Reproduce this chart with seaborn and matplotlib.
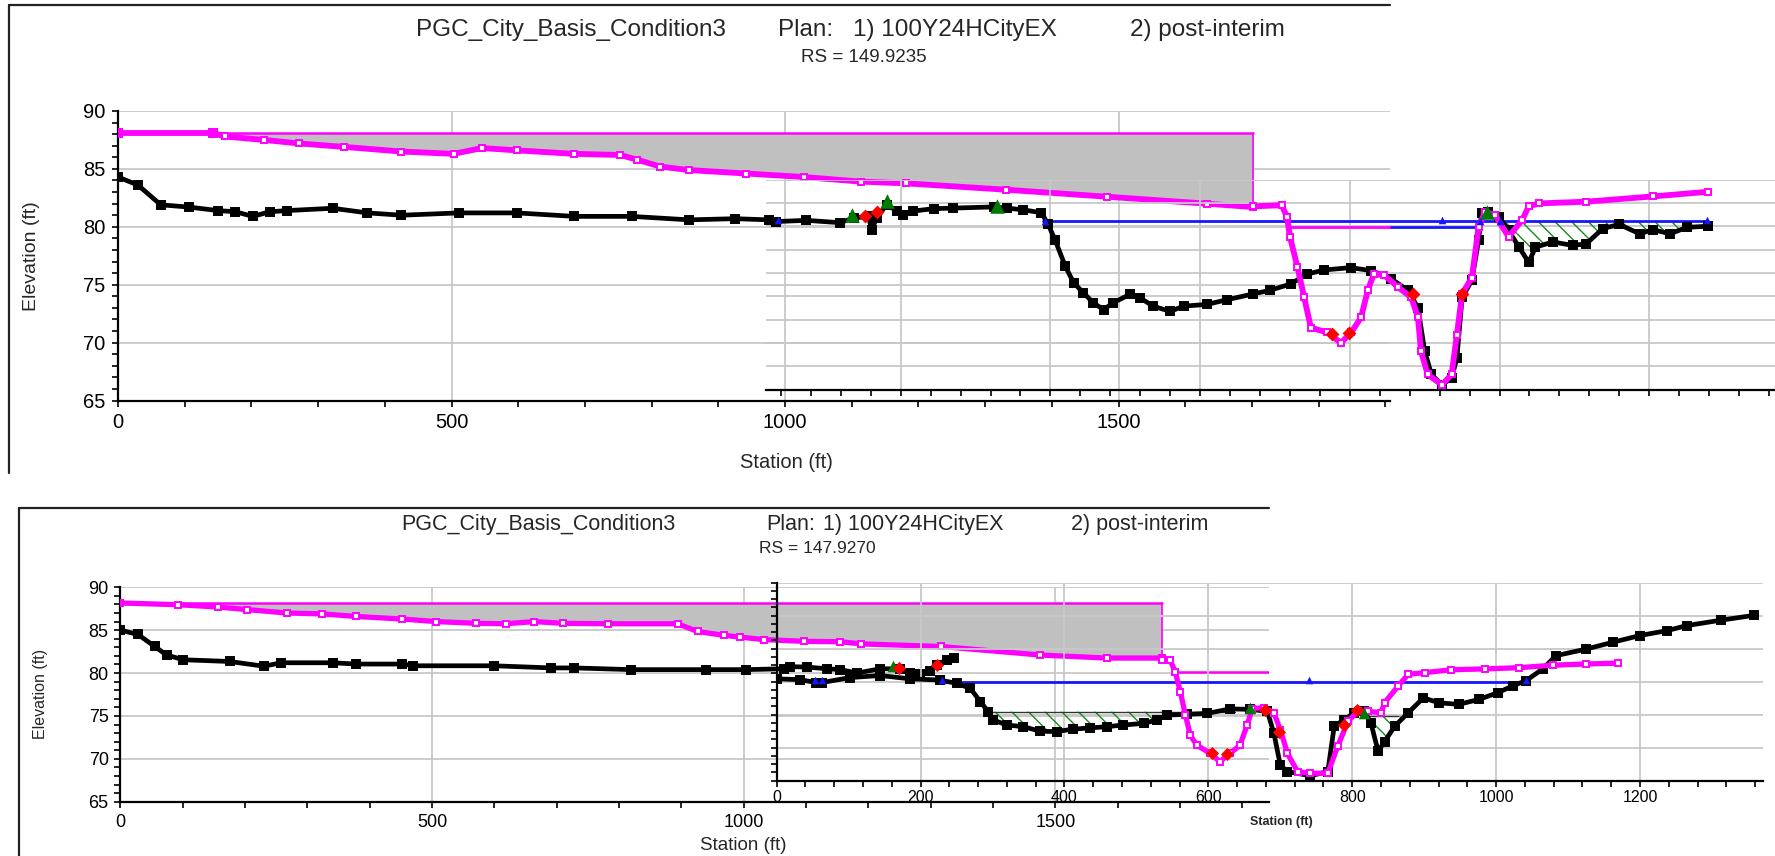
import matplotlib
matplotlib.use("Agg")
import matplotlib.pyplot as plt
import numpy as np
import seaborn as sns
from matplotlib.lines import Line2D
from matplotlib.ticker import FixedLocator, MultipleLocator

# ---------------------------------------------------------------------------
# Upper section, RS = 149.9235
# ---------------------------------------------------------------------------
# plan 1 profile (station ft / elevation ft)
up1_ground_sta = [0, 30, 64, 107, 150, 176, 202, 228, 253, 322, 374, 425, 511, 598,
                  684, 770, 856, 925, 976, 987]
up1_ground_elev = [84.3, 83.6, 81.9, 81.7, 81.4, 81.3, 80.9, 81.3, 81.4, 81.6, 81.2,
                   81.0, 81.2, 81.2, 80.9, 80.9, 80.6, 80.7, 80.6, 80.4]
up1_p2_sta = [0, 143, 160, 219, 271, 339, 425, 503, 546, 598, 684, 753, 778, 813, 856,
              942, 1028, 1114, 1182, 1332, 1482, 1632, 1702]
up1_p2_elev = [88.1, 88.1, 87.8, 87.5, 87.2, 86.9, 86.5, 86.3, 86.8, 86.6, 86.3, 86.2,
               85.8, 85.2, 84.9, 84.6, 84.3, 83.9, 83.75, 83.2, 82.6, 82.0, 81.7]
up1_fill_top = 88.1

# post-interim profile
up2_ground_sta = [34, 74, 119, 137, 157, 161, 168, 181, 195, 203, 217, 244, 270, 324,
                  342, 364, 388, 397, 406, 420, 431, 444, 457, 471, 484, 506, 520, 537,
                  560, 578, 609, 636, 671, 693, 721, 743, 766, 801, 828, 855, 878, 891,
                  900, 909, 923, 936, 943, 950, 963, 972, 976, 985, 999, 1012, 1026,
                  1039, 1048, 1071, 1098, 1116, 1138, 1160, 1187, 1205, 1228, 1250, 1279]
up2_ground_elev = [80.4, 80.5, 80.3, 80.7, 80.85, 79.7, 80.7, 81.85, 81.3, 81.0, 81.3,
                   81.5, 81.55, 81.65, 81.55, 81.4, 81.15, 80.15, 78.85, 76.55, 75.15,
                   74.3, 73.45, 72.85, 73.45, 74.15, 73.85, 73.15, 72.7, 73.15, 73.3,
                   73.7, 74.2, 74.5, 75.05, 75.9, 76.25, 76.45, 76.2, 75.5, 74.5, 73.0,
                   69.3, 67.3, 66.4, 67.0, 68.7, 73.9, 75.35, 78.8, 81.1, 81.2, 80.8,
                   79.65, 78.2, 76.9, 78.2, 78.65, 78.35, 78.5, 79.8, 80.15, 79.35, 79.7,
                   79.35, 79.9, 80.0]
up2_p2_sta = [671, 709, 716, 720, 730, 739, 748, 770, 788, 802, 815, 824, 832, 846, 864,
              882, 891, 895, 904, 923, 936, 943, 950, 963, 972, 981, 994, 1012, 1030,
              1039, 1053, 1116, 1205, 1279]
up2_p2_elev = [81.7, 81.8, 80.8, 79.1, 76.5, 73.9, 71.3, 70.9, 70.0, 70.9, 72.2, 74.5,
               75.9, 75.8, 74.8, 73.9, 72.2, 69.3, 67.3, 66.4, 67.3, 70.7, 74.2, 75.6,
               79.9, 81.25, 80.95, 79.1, 80.5, 81.7, 81.95, 82.1, 82.55, 82.95]
up2_ws_sta = [390, 1279]
up2_ws_elev = 80.43
up2_ws_low_p2_sta = [716, 855]
up2_ws_low_p1_sta = [855, 972]
up2_ws_low_elev = 79.97
up2_bank_sta = [134.5, 181.3, 328.2, 983.3]
up2_bank_elev = [80.99, 82.13, 81.7, 81.25]
up2_lev_sta = [152.3, 168.7, 776.6, 798.9, 884.4, 949.5]
up2_lev_elev = [80.85, 81.23, 70.79, 70.87, 74.18, 74.18]
up2_ineff_sta = [36, 392.7, 922.5, 974, 1001, 1277]
up2_ineff_elev = [80.57, 80.48, 80.51, 80.46, 80.46, 80.51]

# ---------------------------------------------------------------------------
# Lower section, RS = 147.9270
# ---------------------------------------------------------------------------
lo1_ground_sta = [0, 28, 55, 74, 101, 175, 230, 258, 341, 378, 452, 470, 599, 691, 728,
                  820, 940, 1004, 1064, 1075, 1101, 1134, 1155, 1182, 1219, 1251, 1267,
                  1283, 1299, 1310, 1326, 1337]
lo1_ground_elev = [85.0, 84.5, 83.1, 82.1, 81.55, 81.35, 80.8, 81.2, 81.2, 81.05, 81.05,
                   80.85, 80.85, 80.6, 80.6, 80.4, 80.4, 80.4, 80.5, 80.75, 80.7, 80.5,
                   80.4, 80.0, 80.5, 80.5, 80.0, 79.9, 80.2, 80.95, 81.55, 81.8]
lo1_p2_sta = [0, 92, 157, 203, 267, 323, 378, 452, 507, 571, 618, 664, 710, 783, 894,
              926, 968, 994, 1032, 1097, 1155, 1189, 1316, 1476, 1583, 1671]
lo1_p2_elev = [88.17, 87.97, 87.7, 87.4, 87.0, 86.9, 86.6, 86.3, 86.0, 85.8, 85.75, 86.0,
               85.8, 85.75, 85.75, 84.85, 84.4, 84.2, 83.9, 83.7, 83.65, 83.4, 83.1,
               82.1, 81.75, 81.75]
lo1_fill_top = 88.17
lo1_ws_p2_sta = [1696, 1843]
lo1_ws_p2_elev = 80.12
lo1_bank_sta = [1239.5]
lo1_bank_elev = [80.77]
lo1_lev_sta = [1248.5, 1310]
lo1_lev_elev = [80.58, 80.97]

lo2_ground_sta = [0, 32, 55, 63, 102, 144, 185, 227, 250, 269, 283, 294, 301, 320, 343,
                  366, 389, 412, 436, 459, 482, 510, 528, 542, 570, 598, 630, 658, 682,
                  691, 700, 710, 742, 766, 775, 789, 803, 817, 826, 836, 845, 859, 878,
                  899, 920, 948, 976, 1002, 1023, 1041, 1065, 1083, 1125, 1163, 1200,
                  1238, 1265, 1312, 1359]
lo2_ground_elev = [78.35, 78.25, 77.9, 77.9, 78.5, 78.75, 78.35, 78.2, 77.8, 77.2, 75.6,
                   74.35, 73.35, 72.75, 72.55, 72.0, 71.95, 72.25, 72.4, 72.55, 72.75,
                   72.95, 73.35, 73.95, 74.05, 74.15, 74.7, 74.65, 74.4, 71.8, 67.9,
                   67.1, 66.6, 67.1, 72.6, 73.4, 74.25, 74.4, 73.0, 69.55, 70.75, 72.6,
                   74.25, 76.05, 75.45, 75.25, 75.85, 76.65, 77.5, 78.1, 79.55, 81.15,
                   81.95, 82.8, 83.6, 84.2, 84.8, 85.45, 86.05]
lo2_p2_sta = [535, 547, 554, 561, 568, 575, 584, 603, 616, 630, 644, 654, 661, 677, 691,
              700, 710, 724, 742, 766, 780, 794, 808, 822, 840, 845, 864, 878, 901, 938,
              985, 1032, 1079, 1125, 1170]
lo2_p2_elev = [80.6, 80.6, 79.2, 76.8, 74.0, 71.5, 70.3, 69.3, 68.3, 69.3, 70.3, 72.75,
               74.75, 74.85, 74.25, 72.2, 69.3, 67.1, 66.9, 66.9, 70.2, 73.2, 74.4, 74.4,
               74.25, 75.45, 77.5, 78.9, 79.1, 79.45, 79.55, 79.7, 80.0, 80.15, 80.25]
lo2_ws_sta = [227, 1041]
lo2_ws_elev = 78.0
lo2_pond1_sta = [294, 547]
lo2_pond1_elev = 74.36
lo2_pond2_sta = [817, 864]
lo2_pond2_elev = 73.82
lo2_bank_sta = [658.5, 816.9]
lo2_bank_elev = [74.8, 74.24]
lo2_lev_sta = [604.8, 625.7, 679, 697.9, 788.8, 806.7]
lo2_lev_elev = [69.31, 69.19, 74.63, 71.87, 72.8, 74.56]
lo2_ineff_sta = [53.3, 62.6, 229.4, 739.9, 1041.2]
lo2_ineff_elev = [78.2, 78.2, 78.2, 78.22, 78.22]

# ---------------------------------------------------------------------------
W, H, DPI = 1775, 856, 100
MAG = "#ff00ff"
GRAY_FILL = "#c0c0c0"
GRID = "#c8c8c8"

sns.set_theme(style="ticks")
plt.rcParams["font.family"] = ["Liberation Sans", "DejaVu Sans"]
plt.rcParams["hatch.linewidth"] = 1.0

fig = plt.figure(figsize=(W / DPI, H / DPI), dpi=DPI)
fig.patch.set_facecolor("white")


def fx(x):
    return x / W


def fy(y):
    return 1 - y / H


def px_axes(left, top, right, bottom, z):
    ax = fig.add_axes([left / W, 1 - bottom / H, (right - left) / W, (bottom - top) / H],
                      zorder=z)
    ax.patch.set_visible(False)
    return ax


def style(ax, xlim, ylim, xmaj, xmin, ymaj, ymin, lsize, xlabels=True, ylabels=True,
          left=True, pad=3.5):
    ax.set_xlim(*xlim)
    ax.set_ylim(*ylim)
    ax.xaxis.set_major_locator(FixedLocator(xmaj))
    ax.xaxis.set_minor_locator(MultipleLocator(xmin))
    ax.yaxis.set_major_locator(FixedLocator(ymaj))
    if ymin:
        ax.yaxis.set_minor_locator(MultipleLocator(ymin))
    ax.grid(True, which="major", color=GRID, lw=1.3)
    ax.set_axisbelow(True)
    for s in ("top", "right"):
        ax.spines[s].set_visible(False)
    ax.spines["left"].set_visible(left)
    for s in ("left", "bottom"):
        ax.spines[s].set_color("black")
        ax.spines[s].set_linewidth(1.6)
    ax.tick_params(which="both", direction="out", length=4.5, width=1.2, color="black",
                   labelsize=lsize, labelcolor="black", pad=pad,
                   bottom=True, left=left, top=False, right=False)
    ax.tick_params(axis="x", labelbottom=xlabels)
    ax.tick_params(axis="y", labelleft=ylabels)
    if not left:
        ax.tick_params(axis="y", which="both", length=0)
    ax.set_xlabel("")
    ax.set_ylabel("")


def profile(ax, x, y, color, lw, ms, mfc, z):
    sns.lineplot(x=np.asarray(x, float), y=np.asarray(y, float), sort=False,
                 estimator=None, ax=ax, color=color, lw=lw, marker="s", ms=ms,
                 mfc=mfc, mec=color, mew=1.4, legend=False, zorder=z)


def flat(ax, x, level, color, lw, z):
    sns.lineplot(x=np.asarray(x, float), y=np.full(len(x), level), sort=False,
                 estimator=None, ax=ax, color=color, lw=lw, legend=False, zorder=z)


def points(ax, x, y, marker, color, s, z):
    sns.scatterplot(x=np.asarray(x, float), y=np.asarray(y, float), marker=marker,
                    color=color, s=s, linewidth=0, ax=ax, legend=False, zorder=z)


def pond(ax, gx, gy, x_range, level, line_end=None):
    gx = np.asarray(gx, float)
    gy = np.asarray(gy, float)
    inside = (gx >= x_range[0]) & (gx <= x_range[1])
    ax.fill_between(gx, gy, level, where=inside & (gy <= level), interpolate=True,
                    facecolor="none", edgecolor="#1a8a1a", hatch="\\\\", lw=0, zorder=3)
    end = line_end if line_end is not None else x_range[1]
    flat(ax, [x_range[0], end], level, "#333333", 1.0, 3)


# ---------------------------------------------------------------------------
# frames
fig.add_artist(Line2D([fx(9), fx(1390)], [fy(5), fy(5)], color="#222222", lw=1.6))
fig.add_artist(Line2D([fx(9), fx(9)], [fy(5), fy(473)], color="#222222", lw=1.6))
fig.add_artist(Line2D([fx(19), fx(1269)], [fy(508), fy(508)], color="#222222", lw=1.6))
fig.add_artist(Line2D([fx(19), fx(19)], [fy(508), fy(856)], color="#222222", lw=1.6))

GROUND_LW, GROUND_MS = 3.4, 6.0
P2_LW, P2_MS = 4.2, 5.0

# ---------------------------------------------------------------------------
# upper section, plan 1 axes
a1 = px_axes(118, 111, 1390, 400.5, 1)
style(a1, (0, 1907), (65, 90), [0, 500, 1000, 1500], 100, [65, 70, 75, 80, 85, 90], 1,
      14.5, pad=4.5)
a1.fill_between(up1_p2_sta, up1_p2_elev, up1_fill_top, color=GRAY_FILL, lw=0, zorder=2)
flat(a1, [up1_p2_sta[0], up1_p2_sta[-1]], up1_fill_top, MAG, 1.8, 3)
sns.lineplot(x=[up1_p2_sta[-1], up1_p2_sta[-1]], y=[up1_fill_top, up1_p2_elev[-1]],
             sort=False, estimator=None, ax=a1, color=MAG, lw=1.2, legend=False, zorder=3)
profile(a1, up1_p2_sta, up1_p2_elev, MAG, P2_LW, P2_MS, "white", 4)
profile(a1, up1_ground_sta, up1_ground_elev, "black", GROUND_LW, GROUND_MS, "black", 5)
points(a1, [0, 143], [up1_fill_top, up1_fill_top], "s", MAG, 45, 4)

# upper section, post-interim axes
a2 = px_axes(766, 179.5, 1775, 389.6, 2)
style(a2, (20, 1368), (66, 84), [200, 400, 600, 800, 1000, 1200], 40,
      list(range(66, 85, 2)), None, 12, xlabels=False, ylabels=False, left=False)
a2.tick_params(axis="x", which="both", length=4)
flat(a2, up2_ws_sta, up2_ws_elev, "#1515ff", 2.0, 4)
flat(a2, up2_ws_low_p2_sta, up2_ws_low_elev, MAG, 2.0, 4)
flat(a2, up2_ws_low_p1_sta, up2_ws_low_elev, "#1515ff", 2.0, 4)
pond(a2, up2_ground_sta, up2_ground_elev, (995, 1280), up2_ws_elev, line_end=995)
profile(a2, up2_ground_sta, up2_ground_elev, "black", GROUND_LW, GROUND_MS, "black", 5)
profile(a2, up2_p2_sta, up2_p2_elev, MAG, P2_LW, P2_MS, "white", 6)
points(a2, up2_ineff_sta, up2_ineff_elev, "^", "#1515ff", 30, 7)
points(a2, up2_bank_sta, up2_bank_elev, "^", "#007a00", 110, 7)
points(a2, up2_lev_sta, up2_lev_elev, "D", "#ff0000", 50, 7)

# upper texts
top_base = fy(36)
fig.text(fx(416), top_base, "PGC_City_Basis_Condition3", fontsize=17.5, va="baseline")
fig.text(fx(778), top_base, "Plan:", fontsize=17.5, va="baseline")
fig.text(fx(853), top_base, "1) 100Y24HCityEX", fontsize=17.5, va="baseline")
fig.text(fx(1130), top_base, "2) post-interim", fontsize=17.5, va="baseline")
fig.text(fx(864), fy(62), "RS = 149.9235", fontsize=13.5, ha="center", va="baseline")
fig.text(fx(31), fy(256), "Elevation (ft)", fontsize=14, rotation=90,
         ha="center", va="center")
fig.text(fx(786), fy(462), "Station (ft)", fontsize=14.5, ha="center", va="center")

# ---------------------------------------------------------------------------
# lower section, plan 1 axes
b1 = px_axes(120.5, 587.3, 1269, 801.7, 3)
style(b1, (0, 1843), (65, 90), [0, 500, 1000, 1500], 100, [65, 70, 75, 80, 85, 90], 1,
      13, pad=4)
b1.fill_between(lo1_p2_sta, lo1_p2_elev, lo1_fill_top, color=GRAY_FILL, lw=0, zorder=2)
flat(b1, [lo1_p2_sta[0], lo1_p2_sta[-1]], lo1_fill_top, MAG, 1.8, 3)
sns.lineplot(x=[lo1_p2_sta[-1], lo1_p2_sta[-1]], y=[lo1_fill_top, lo1_p2_elev[-1]],
             sort=False, estimator=None, ax=b1, color=MAG, lw=1.2, legend=False, zorder=3)
flat(b1, lo1_ws_p2_sta, lo1_ws_p2_elev, MAG, 1.8, 3)
profile(b1, lo1_p2_sta, lo1_p2_elev, MAG, P2_LW - 0.4, P2_MS - 0.5, "white", 4)
profile(b1, lo1_ground_sta, lo1_ground_elev, "black", GROUND_LW, GROUND_MS, "black", 5)
points(b1, [0], [lo1_fill_top], "s", MAG, 40, 4)
points(b1, lo1_bank_sta, lo1_bank_elev, "^", "#007a00", 70, 7)
points(b1, lo1_lev_sta, lo1_lev_elev, "D", "#ff0000", 45, 7)

# lower section, post-interim axes
b2 = px_axes(776.7, 582.7, 1763, 780.7, 4)
style(b2, (0, 1371), (66, 90), [0, 200, 400, 600, 800, 1000, 1200], 40,
      list(range(66, 91, 4)), 1, 11.5, ylabels=False, pad=3)
b2.tick_params(which="both", length=4)
flat(b2, lo2_ws_sta, lo2_ws_elev, "#1515ff", 2.0, 4)
pond(b2, lo2_ground_sta, lo2_ground_elev, lo2_pond1_sta, lo2_pond1_elev, line_end=637)
pond(b2, lo2_ground_sta, lo2_ground_elev, lo2_pond2_sta, lo2_pond2_elev)
profile(b2, lo2_ground_sta, lo2_ground_elev, "black", GROUND_LW, GROUND_MS, "black", 5)
profile(b2, lo2_p2_sta, lo2_p2_elev, MAG, P2_LW - 0.4, P2_MS - 0.5, "white", 6)
points(b2, lo2_ineff_sta, lo2_ineff_elev, "^", "#1515ff", 30, 7)
points(b2, lo2_bank_sta, lo2_bank_elev, "^", "#007a00", 70, 7)
points(b2, lo2_lev_sta, lo2_lev_elev, "D", "#ff0000", 45, 7)

# lower texts
bot_base = fy(530)
fig.text(fx(401), bot_base, "PGC_City_Basis_Condition3", fontsize=15.5, va="baseline")
fig.text(fx(766), bot_base, "Plan:", fontsize=15.5, va="baseline")
fig.text(fx(823), bot_base, "1) 100Y24HCityEX", fontsize=15.5, va="baseline")
fig.text(fx(1071), bot_base, "2) post-interim", fontsize=15.5, va="baseline")
fig.text(fx(817), fy(553), "RS = 147.9270", fontsize=12.5, ha="center", va="baseline")
fig.text(fx(40), fy(694), "Elevation (ft)", fontsize=11.5, rotation=90,
         ha="center", va="center")
fig.text(fx(743), fy(846), "Station (ft)", fontsize=13.5, ha="center", va="center")
fig.text(fx(1281), fy(822), "Station (ft)", fontsize=9, ha="center", va="center",
         fontweight="bold")

fig.savefig("out.png", dpi=DPI, facecolor="white")
